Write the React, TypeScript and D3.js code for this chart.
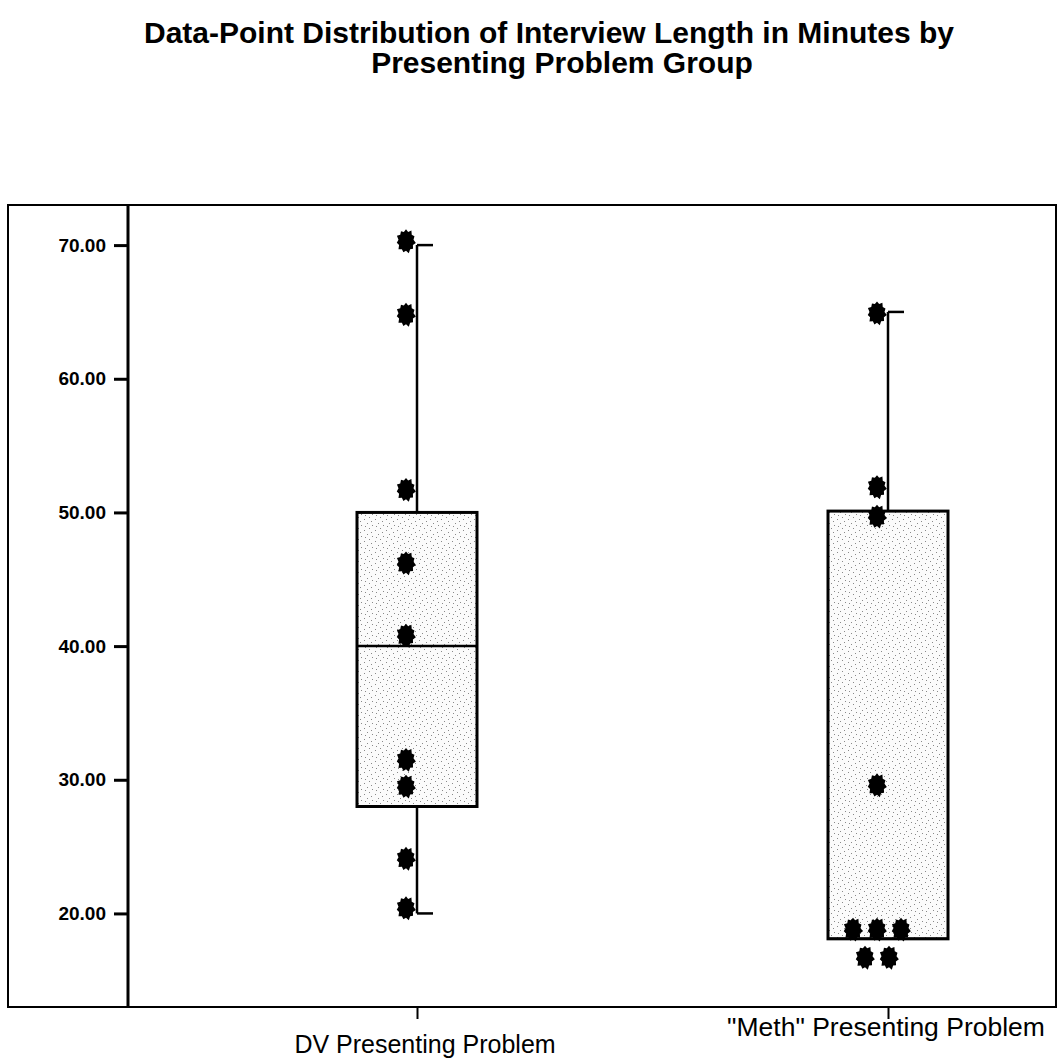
import React, { useEffect, useRef } from "react";
import * as d3 from "d3";

// groups on the x axis
const groups = ["DV Presenting Problem", "\"Meth\" Presenting Problem"];

// box statistics per group (minutes)
const whiskerLow = [20, null];
const quart1 = [28, 18.1];
const medians = [40, 18.1];
const quart3 = [50, 50.1];
const whiskerHigh = [70, 65];

// individual interviews (minutes)
const dvMinutes = [70.3, 64.8, 51.7, 46.2, 40.8, 31.5, 29.5, 24.1, 20.4];
const methMinutes = [64.9, 51.9, 49.7, 29.6, 18.8, 18.8, 18.8, 16.7, 16.7];

const yTicks = [20, 30, 40, 50, 60, 70];
const titleLines = [
  "Data-Point Distribution of Interview Length in Minutes by",
  "Presenting Problem Group",
];

const W = 1059;
const H = 1060;
const frame = { left: 8, top: 205, right: 1056, bottom: 1007 };
const axisX = 128;
const font = "'Liberation Sans', Arial, Helvetica, sans-serif";

const App = () => {
  const ref = useRef<SVGSVGElement>(null);

  useEffect(() => {
    drawChart();
  }, []);

  const drawChart = () => {
    const svg = d3.select(ref.current);
    svg.selectAll("*").remove();

    const y = d3.scaleLinear().domain([13, 73]).range([frame.bottom, frame.top]);
    const x = d3.scalePoint<string>().domain(groups).range([417, 888]);
    const boxW = 120;
    const capW = 16;

    // stipple fill for the boxes
    const defs = svg.append("defs");
    const pat = defs
      .append("pattern")
      .attr("id", "stipple")
      .attr("patternUnits", "userSpaceOnUse")
      .attr("width", 11)
      .attr("height", 11);
    pat.append("rect").attr("width", 11).attr("height", 11).attr("fill", "#fbfbfb");
    [[1, 2], [6, 0], [4, 6], [9, 8], [8, 4], [2, 9]].forEach(([px, py]) =>
      pat
        .append("rect")
        .attr("x", px)
        .attr("y", py)
        .attr("width", 1)
        .attr("height", 1)
        .attr("fill", "#8a8a8a")
    );

    // title
    svg
      .append("g")
      .selectAll("text")
      .data(titleLines)
      .enter()
      .append("text")
      .attr("x", (d, i) => (i === 0 ? 549 : 562))
      .attr("y", (d, i) => 43 + i * 30)
      .attr("text-anchor", "middle")
      .attr("font-family", font)
      .attr("font-weight", "bold")
      .attr("font-size", 30)
      .text((d) => d);

    // frame
    svg
      .append("rect")
      .attr("x", frame.left)
      .attr("y", frame.top)
      .attr("width", frame.right - frame.left)
      .attr("height", frame.bottom - frame.top)
      .attr("fill", "none")
      .attr("stroke", "#000")
      .attr("stroke-width", 2);

    // y axis
    const yAxis = svg
      .append("g")
      .attr("transform", `translate(${axisX},0)`)
      .call(
        d3
          .axisLeft(y)
          .tickValues(yTicks)
          .tickSize(14)
          .tickPadding(8)
          .tickFormat(d3.format(".2f"))
      );
    yAxis.select(".domain").remove();
    yAxis.selectAll(".tick line").attr("stroke", "#000").attr("stroke-width", 3);
    yAxis
      .selectAll(".tick text")
      .attr("fill", "#000")
      .attr("font-family", font)
      .attr("font-weight", "bold")
      .attr("font-size", 19);
    svg
      .append("line")
      .attr("x1", axisX)
      .attr("x2", axisX)
      .attr("y1", frame.top)
      .attr("y2", frame.bottom)
      .attr("stroke", "#000")
      .attr("stroke-width", 3);

    // x axis ticks and labels
    const xAxis = svg
      .append("g")
      .attr("transform", `translate(0,${frame.bottom})`)
      .call(d3.axisBottom(x).tickSize(12).tickFormat(() => ""));
    xAxis.select(".domain").remove();
    xAxis.selectAll(".tick line").attr("stroke", "#000").attr("stroke-width", 2);
    svg
      .append("g")
      .selectAll("text")
      .data(groups)
      .enter()
      .append("text")
      .attr("x", (d, i) => x(d)! + (i === 0 ? 8 : -2))
      .attr("y", (d, i) => frame.bottom + (i === 0 ? 46 : 29))
      .attr("text-anchor", "middle")
      .attr("font-family", font)
      .attr("font-size", (d, i) => (i === 0 ? 25 : 26.5))
      .text((d) => d);

    // boxes
    const boxes = svg
      .append("g")
      .selectAll("g")
      .data(groups)
      .enter()
      .append("g");

    boxes
      .append("line")
      .attr("x1", (d) => x(d)!)
      .attr("x2", (d) => x(d)!)
      .attr("y1", (d, i) => y(quart3[i]))
      .attr("y2", (d, i) => y(whiskerHigh[i]))
      .attr("stroke", "#000")
      .attr("stroke-width", 2.5);
    boxes
      .append("line")
      .attr("x1", (d) => x(d)!)
      .attr("x2", (d) => x(d)! + capW)
      .attr("y1", (d, i) => y(whiskerHigh[i]))
      .attr("y2", (d, i) => y(whiskerHigh[i]))
      .attr("stroke", "#000")
      .attr("stroke-width", 2.5);
    boxes
      .filter((d, i) => whiskerLow[i] !== null)
      .each(function (d) {
        const i = groups.indexOf(d);
        const g = d3.select(this);
        g.append("line")
          .attr("x1", x(d)!)
          .attr("x2", x(d)!)
          .attr("y1", y(quart1[i]))
          .attr("y2", y(whiskerLow[i] as number))
          .attr("stroke", "#000")
          .attr("stroke-width", 2.5);
        g.append("line")
          .attr("x1", x(d)!)
          .attr("x2", x(d)! + capW)
          .attr("y1", y(whiskerLow[i] as number))
          .attr("y2", y(whiskerLow[i] as number))
          .attr("stroke", "#000")
          .attr("stroke-width", 2.5);
      });
    boxes
      .append("rect")
      .attr("x", (d) => x(d)! - boxW / 2)
      .attr("y", (d, i) => y(quart3[i]))
      .attr("width", boxW)
      .attr("height", (d, i) => y(quart1[i]) - y(quart3[i]))
      .attr("fill", "url(#stipple)")
      .attr("stroke", "#000")
      .attr("stroke-width", 3);
    boxes
      .append("line")
      .attr("x1", (d) => x(d)! - boxW / 2)
      .attr("x2", (d) => x(d)! + boxW / 2)
      .attr("y1", (d, i) => y(medians[i]))
      .attr("y2", (d, i) => y(medians[i]))
      .attr("stroke", "#000")
      .attr("stroke-width", 2.5);

    // data points: ragged blobs, ties dodged sideways
    const blob = d3
      .lineRadial<[number, number]>()
      .curve(d3.curveLinearClosed)
      .angle((d) => d[0])
      .radius((d) => d[1]);
    const spikes: [number, number][] = d3
      .range(22)
      .map((k) => [(k / 22) * 2 * Math.PI, k % 2 ? 8 : k % 4 ? 10.5 : 9.8]);
    const blobPath = blob(spikes)!;

    const points: { g: string; v: number; dodge: number }[] = [];
    [dvMinutes, methMinutes].forEach((vals, gi) => {
      const counts = d3.rollup(vals, (v) => v.length, (v) => v);
      const seen = new Map<number, number>();
      vals.forEach((v) => {
        const n = counts.get(v)!;
        const k = seen.get(v) || 0;
        seen.set(v, k + 1);
        points.push({ g: groups[gi], v, dodge: k - (n - 1) / 2 });
      });
    });

    svg
      .append("g")
      .selectAll("path")
      .data(points)
      .enter()
      .append("path")
      .attr("d", blobPath)
      .attr("fill", "#000")
      .attr(
        "transform",
        (d) => `translate(${x(d.g)! - 11 + d.dodge * 24},${y(d.v)}) scale(0.95,1.2)`
      );
  };

  return (
    <svg
      ref={ref}
      width={W}
      height={H}
      style={{ position: "absolute", left: 0, top: 0, background: "#fff" }}
    ></svg>
  );
};

export default App;
